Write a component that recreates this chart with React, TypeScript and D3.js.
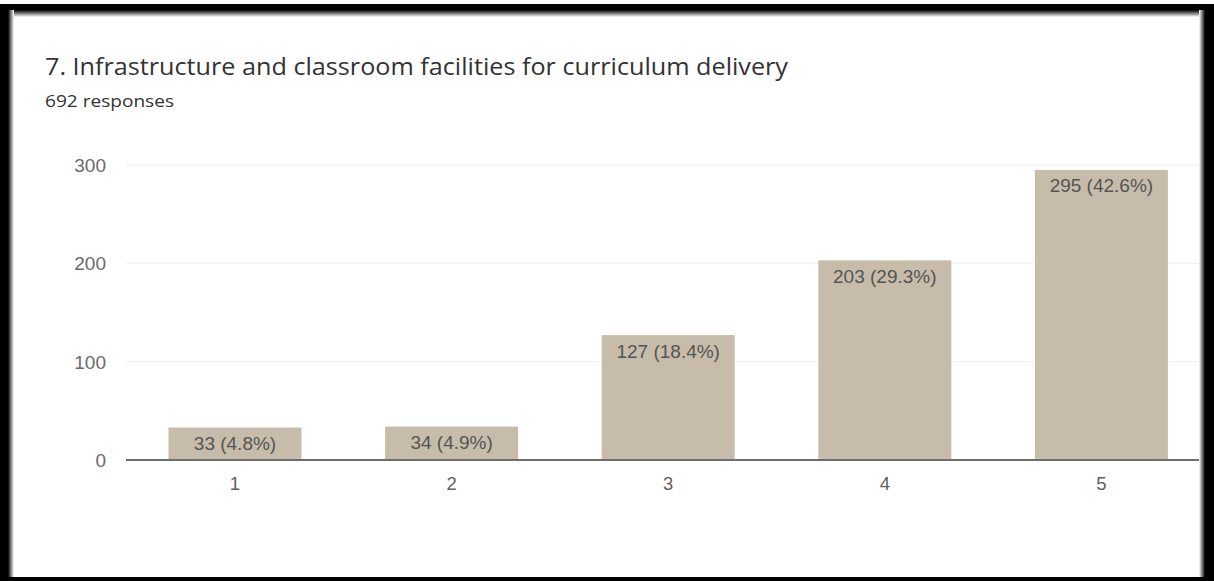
import React from "react";
import * as d3 from "d3";

const categories = ["1", "2", "3", "4", "5"];
const counts = [33, 34, 127, 203, 295];
const percents = ["4.8%", "4.9%", "18.4%", "29.3%", "42.6%"];
const yTicks = [0, 100, 200, 300];
const title = "7. Infrastructure and classroom facilities for curriculum delivery";
const subtitle = "692 responses";

const W = 1214;
const H = 581;

export default function App() {
  const x = d3.scaleBand<string>().domain(categories).range([126.7, 1209.7]).paddingInner(0.386).paddingOuter(0.193);
  const y = d3.scaleLinear().domain([0, 300]).range([460, 165]);
  const tickFont = "'Liberation Sans', Arial, sans-serif";
  return (
    <svg width={W} height={H} style={{ position: "absolute", left: 0, top: 0, background: "#fff" }}>
      <defs>
        <linearGradient id="gTop" x1="0" y1="0" x2="0" y2="1">
          <stop offset="0" stopColor="#000" />
          <stop offset="1" stopColor="#fff" />
        </linearGradient>
        <linearGradient id="gLeft" x1="0" y1="0" x2="1" y2="0">
          <stop offset="0" stopColor="#000" />
          <stop offset="1" stopColor="#fff" />
        </linearGradient>
        <linearGradient id="gRight" x1="1" y1="0" x2="0" y2="0">
          <stop offset="0" stopColor="#000" />
          <stop offset="1" stopColor="#fff" />
        </linearGradient>
      </defs>
      <rect x={0} y={0} width={W} height={H} fill="#fff" />
      {yTicks.filter((t) => t > 0).map((t) => (
        <line key={t} x1={126} x2={1205} y1={y(t)} y2={y(t)} stroke="#efefef" strokeWidth={1} />
      ))}
      {categories.map((c, i) => (
        <g key={c}>
          <rect x={x(c)} y={y(counts[i])} width={x.bandwidth()} height={y(0) - y(counts[i])} fill="#c7bca9" />
          <text x={(x(c) as number) + x.bandwidth() / 2} y={y(counts[i]) + 22.5} textAnchor="middle" fontFamily={tickFont} fontSize={19} fill="#555">
            {`${counts[i]} (${percents[i]})`}
          </text>
          <text x={(x(c) as number) + x.bandwidth() / 2} y={489.5} textAnchor="middle" fontFamily={tickFont} fontSize={18.5} fill="#5f5f5f">
            {c}
          </text>
        </g>
      ))}
      <line x1={126} x2={1205} y1={y(0)} y2={y(0)} stroke="#6e6e6e" strokeWidth={2} />
      {yTicks.map((t) => (
        <text key={t} x={106} y={y(t) + 7} textAnchor="end" fontFamily={tickFont} fontSize={19} fill="#6a6a6a">
          {t}
        </text>
      ))}
      <text x={45} y={75} fontFamily="'Open Sans', sans-serif" fontSize={24} fill="#333" textLength={743} lengthAdjust="spacingAndGlyphs">
        {title}
      </text>
      <text x={45} y={107} fontFamily="'Open Sans', sans-serif" fontSize={16.5} fill="#333" textLength={129} lengthAdjust="spacingAndGlyphs">
        {subtitle}
      </text>
      <rect x={0} y={0} width={W} height={4} fill="#fff" />
      <rect x={0} y={10} width={W} height={7} fill="url(#gTop)" />
      <rect x={8} y={10} width={6} height={H - 14} fill="url(#gLeft)" />
      <rect x={1199} y={10} width={6} height={H - 14} fill="url(#gRight)" />
      <rect x={0} y={4} width={W} height={6} fill="#000" />
      <rect x={0} y={4} width={8} height={H - 4} fill="#000" />
      <rect x={1205} y={4} width={9} height={H - 4} fill="#000" />
      <rect x={0} y={577} width={W} height={4} fill="#000" />
    </svg>
  );
}
